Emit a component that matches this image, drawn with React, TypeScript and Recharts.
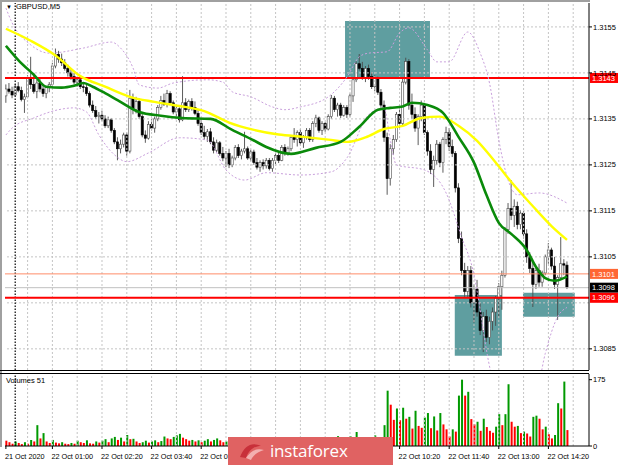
import React from 'react';
import {
  Bar,
  Cell,
  ComposedChart,
  Line,
  ReferenceArea,
  ReferenceLine,
  XAxis,
  YAxis
} from 'recharts';

// prices in pips above 1.3100
const BASE = 1.31;
const PIP = 0.0001;
const FONT = '"Liberation Sans", Arial, sans-serif';

const opens = [
  40.0, 41.5, 41.0, 40.2, 42.0, 41.2, 39.2, 39.8, 44.0, 42.5,
  41.0, 42.8, 41.5, 40.5, 41.8, 42.5, 46.5, 49.0, 48.0, 47.2,
  46.0, 45.0, 44.2, 43.0, 43.5, 42.0, 41.8, 40.5, 38.0, 36.8,
  35.5, 35.8, 35.0, 33.5, 34.8, 32.5, 30.0, 28.5, 29.5, 31.5,
  28.0, 39.5, 37.0, 38.8, 35.5, 31.5, 30.8, 33.8, 33.0, 35.0,
  37.5, 39.0, 38.2, 40.5, 38.5, 36.5, 37.2, 34.8, 38.5, 37.0,
  38.8, 37.5, 36.2, 34.0, 32.0, 31.2, 32.2, 30.0, 28.2, 29.8,
  27.5, 26.5, 27.5, 25.0, 26.5, 28.8, 27.0, 28.0, 28.5, 26.5,
  27.8, 25.5, 24.5, 25.5, 24.8, 26.0, 24.2, 26.0, 27.0, 26.0,
  28.8, 27.5, 28.5, 31.0, 30.5, 32.0, 29.8, 31.0, 32.5, 30.5,
  34.0, 35.2, 32.5, 34.0, 32.8, 35.5, 39.5, 37.0, 38.0, 35.8,
  37.5, 36.0, 40.0, 43.5, 47.0, 46.0, 44.0, 46.0, 44.2, 42.0,
  43.8, 40.8, 38.0, 31.0, 22.0, 28.5, 30.5, 36.0, 34.0, 43.0,
  47.5, 38.0, 36.0, 33.0, 35.5, 38.0, 32.0, 28.0, 24.0, 26.0,
  29.5, 25.5, 30.5, 32.0, 29.0, 27.5, 20.0, 9.0, 2.0, -2.5,
  2.0, -5.0, -2.0, -7.0, -11.0, -8.0, -12.5, -9.0, -7.0, -4.0,
  -1.5, 1.0, 10.9, 15.5, 14.0, 16.0, 12.0, 14.5, 10.0, 5.0,
  2.5, -1.0, 2.0, -0.5, 1.5, 5.0, 6.5, 3.0, -1.0, 0.5,
  3.5, 3.2
];

const highs = [
  42.5, 42.8, 42.0, 42.5, 43.0, 42.0, 40.5, 44.5, 48.5, 45.0,
  43.5, 43.8, 42.5, 42.0, 43.0, 47.2, 50.3, 49.8, 49.2, 48.0,
  46.8, 46.0, 45.0, 44.0, 44.0, 42.8, 42.5, 41.0, 39.0, 37.8,
  36.5, 36.8, 35.8, 35.5, 35.2, 33.0, 31.0, 30.5, 32.0, 32.0,
  41.3, 40.5, 39.8, 39.5, 36.0, 32.5, 34.5, 35.0, 35.5, 38.0,
  40.0, 40.5, 41.3, 41.0, 39.0, 38.0, 37.5, 44.3, 39.5, 39.2,
  39.5, 38.8, 37.0, 35.0, 33.5, 32.8, 33.0, 31.0, 30.5, 30.2,
  28.9, 28.0, 28.5, 27.0, 29.3, 29.5, 28.5, 32.2, 29.0, 28.3,
  28.3, 26.5, 26.0, 26.2, 26.5, 26.5, 26.5, 27.6, 28.0, 29.3,
  29.5, 29.0, 31.5, 33.0, 32.5, 32.8, 31.5, 33.0, 33.0, 34.5,
  35.9, 35.5, 34.5, 34.3, 36.0, 40.2, 40.0, 38.5, 38.5, 38.0,
  38.0, 40.5, 43.9, 47.5, 49.1, 47.4, 46.5, 46.8, 45.2, 44.5,
  44.2, 41.5, 39.0, 32.0, 29.5, 31.5, 36.5, 37.5, 43.9, 48.3,
  48.0, 40.5, 37.5, 36.0, 39.0, 38.5, 32.5, 29.5, 27.0, 30.4,
  30.0, 31.0, 33.3, 33.0, 30.5, 28.0, 21.0, 10.5, 3.7, 3.0,
  3.0, -1.0, 0.0, -5.0, -7.0, -6.5, -8.0, -6.0, -3.5, -0.7,
  2.0, 11.5, 16.7, 21.7, 17.5, 17.0, 15.2, 15.0, 11.0, 6.0,
  4.0, 3.0, 3.5, 2.0, 5.5, 8.0, 7.0, 5.0, 1.0, 9.3,
  4.5, 4.0
];

const lows = [
  38.5, 40.5, 39.5, 40.0, 40.8, 38.8, 36.3, 39.5, 41.5, 40.5,
  39.5, 40.8, 39.8, 39.5, 40.8, 42.0, 46.0, 47.2, 46.5, 45.5,
  44.2, 43.5, 42.5, 42.0, 41.5, 40.8, 40.0, 37.5, 36.3, 35.0,
  34.0, 34.5, 33.0, 33.0, 32.0, 29.5, 26.0, 27.5, 28.8, 27.0,
  27.5, 36.0, 36.2, 35.0, 31.0, 29.8, 30.5, 32.5, 32.0, 34.5,
  37.0, 37.8, 37.5, 38.0, 36.0, 35.0, 34.2, 34.5, 36.5, 36.5,
  36.8, 35.8, 33.5, 31.5, 30.5, 30.0, 29.5, 27.5, 27.8, 27.0,
  25.8, 24.5, 24.3, 24.5, 26.0, 26.5, 26.2, 27.5, 26.1, 25.8,
  25.0, 24.0, 23.5, 24.0, 24.2, 23.8, 23.5, 25.2, 25.4, 25.8,
  27.0, 27.0, 28.0, 29.8, 29.0, 29.3, 28.7, 30.5, 30.0, 30.0,
  33.2, 32.0, 31.5, 32.2, 32.5, 35.0, 36.5, 35.5, 35.2, 35.5,
  35.2, 35.5, 38.7, 43.0, 45.5, 43.5, 43.0, 43.5, 41.5, 41.0,
  40.2, 37.4, 30.0, 18.5, 20.5, 27.2, 30.0, 33.0, 33.5, 42.5,
  37.0, 35.0, 32.2, 29.3, 34.5, 31.5, 27.0, 23.0, 20.2, 25.0,
  24.5, 23.3, 29.5, 28.0, 26.7, 19.0, 8.0, 1.0, -3.7, -4.0,
  -6.0, -9.3, -8.0, -12.0, -15.7, -13.5, -14.0, -11.0, -10.0, -8.0,
  -6.5, 0.5, 10.0, 13.0, 11.5, 11.0, 11.0, 9.0, 3.7, 1.5,
  -5.9, -2.0, -1.5, -1.5, 1.0, 3.5, 2.2, -2.0, -8.7, 0.0,
  1.0, -2.0
];

const closes = [
  41.5, 41.0, 40.2, 42.0, 41.2, 39.2, 39.8, 44.0, 42.5, 41.0,
  42.8, 41.5, 40.5, 41.8, 42.5, 46.5, 49.0, 48.0, 47.2, 46.0,
  45.0, 44.2, 43.0, 43.5, 42.0, 41.8, 40.5, 38.0, 36.8, 35.5,
  35.8, 35.0, 33.5, 34.8, 32.5, 30.0, 28.5, 29.5, 31.5, 28.0,
  39.5, 37.0, 38.8, 35.5, 31.5, 30.8, 33.8, 33.0, 35.0, 37.5,
  39.0, 38.2, 40.5, 38.5, 36.5, 37.2, 34.8, 38.5, 37.0, 38.8,
  37.5, 36.2, 34.0, 32.0, 31.2, 32.2, 30.0, 28.2, 29.8, 27.5,
  26.5, 27.5, 25.0, 26.5, 28.8, 27.0, 28.0, 28.5, 26.5, 27.8,
  25.5, 24.5, 25.5, 24.8, 26.0, 24.2, 26.0, 27.0, 26.0, 28.8,
  27.5, 28.5, 31.0, 30.5, 32.0, 29.8, 31.0, 32.5, 30.5, 34.0,
  35.2, 32.5, 34.0, 32.8, 35.5, 39.5, 37.0, 38.0, 35.8, 37.5,
  36.0, 40.0, 43.5, 47.0, 46.0, 44.0, 46.0, 44.2, 42.0, 43.8,
  40.8, 38.0, 31.0, 22.0, 28.5, 30.5, 36.0, 34.0, 43.0, 47.5,
  38.0, 36.0, 33.0, 35.5, 38.0, 32.0, 28.0, 24.0, 26.0, 29.5,
  25.5, 30.5, 32.0, 29.0, 27.5, 20.0, 9.0, 2.0, -2.5, 2.0,
  -5.0, -2.0, -7.0, -11.0, -8.0, -12.5, -9.0, -7.0, -4.0, -1.5,
  1.0, 10.9, 15.5, 14.0, 16.0, 12.0, 14.5, 10.0, 5.0, 2.5,
  -1.0, 2.0, -0.5, 1.5, 5.0, 6.5, 3.0, -1.0, 0.5, 3.5,
  3.2, -1.7
];

const volumes = [
  14, 10, 6, 12, 8, 5, 10, 6, 16, 12,
  55, 20, 34, 12, 8, 16, 9, 7, 10, 6,
  5, 8, 6, 14, 10, 8, 15, 7, 6, 12,
  9, 14, 18, 10, 20, 24, 16, 22, 12, 29,
  18, 19, 12, 8, 10, 14, 9, 12, 15, 10,
  13, 25, 20, 18, 24, 28, 32, 22, 18, 14,
  16, 12, 15, 10, 14, 18, 12, 16, 20, 15,
  10, 12, 18, 14, 10, 16, 8, 14, 12, 9,
  15, 10, 13, 8, 12, 7, 14, 10, 9, 13,
  8, 12, 10, 16, 9, 11, 14, 8, 12, 20,
  10, 15, 9, 12, 18, 10, 14, 26, 12, 9,
  16, 26, 12, 37, 15, 22, 10, 14, 12, 28,
  16, 20, 55, 146, 109, 69, 99, 68, 101, 72,
  77, 46, 93, 53, 48, 75, 87, 47, 78, 41,
  87, 57, 44, 25, 44, 38, 133, 175, 133, 143,
  71, 57, 64, 40, 72, 50, 40, 35, 51, 84,
  55, 84, 163, 64, 51, 53, 34, 38, 33, 25,
  77, 80, 72, 44, 51, 31, 20, 29, 113, 99,
  170, 42
];

// indicator readings: [bar, pips]
const yellowMA = [
  [0, 54.6], [8, 52.0], [16, 48.8], [24, 44.3], [32, 42.0], [40, 39.8], [48, 38.7],
  [56, 37.8], [64, 36.7], [72, 34.2], [80, 32.6], [88, 31.6], [96, 31.1], [104, 30.5],
  [110, 30.0], [116, 31.0], [122, 32.8], [128, 33.5], [134, 35.2], [140, 35.5],
  [146, 33.5], [152, 30.2], [158, 25.5], [164, 20.5], [170, 16.0], [176, 11.7], [181, 8.7]
];

const greenMA = [
  [0, 50.9], [4, 47.8], [9, 44.6], [13, 42.0], [18, 41.8], [22, 42.2], [25, 42.8],
  [28, 42.0], [32, 40.6], [36, 39.1], [43, 36.5], [50, 35.7], [57, 35.2], [66, 35.0],
  [73, 32.6], [80, 30.3], [84, 28.9], [92, 27.4], [100, 28.7], [108, 30.0], [114, 33.3],
  [120, 37.0], [124, 37.4], [128, 37.7], [131, 38.5], [136, 38.0], [141, 36.3],
  [146, 31.1], [151, 25.5], [155, 18.5], [159, 12.4], [163, 10.0], [168, 6.5],
  [171, 2.8], [174, 0.4], [177, -0.2], [181, 0.7]
];

const upperBand = [
  [0, 59.1], [2, 55.9], [8, 51.1], [14, 49.3], [25, 50.4], [34, 51.7], [37, 50.4],
  [41, 46.1], [43, 42.4], [49, 41.7], [54, 42.8], [65, 43.5], [70, 43.0], [73, 40.9],
  [79, 39.8], [86, 37.6], [90, 37.0], [95, 37.6], [104, 39.8], [110, 44.1], [114, 48.5],
  [117, 49.3], [123, 49.6], [127, 53.7], [130, 54.8], [136, 50.0], [139, 47.4],
  [143, 47.4], [149, 53.9], [153, 49.3], [156, 42.8], [159, 30.4], [162, 21.7],
  [165, 18.5], [172, 18.9], [181, 16.7]
];

const lowerBand = [
  [0, 31.5], [2, 33.0], [9, 35.2], [17, 37.0], [22, 37.4], [26, 36.5], [30, 31.5],
  [35, 27.2], [39, 25.7], [46, 27.6], [56, 30.9], [65, 30.4], [71, 23.9], [77, 21.7],
  [84, 23.3], [95, 22.8], [105, 23.5], [110, 26.5], [117, 35.9], [122, 37.4],
  [124, 30.4], [126, 25.0], [135, 23.9], [142, 18.9], [147, 9.3], [151, 1.1],
  [153, -6.5], [155, -15.2], [158, -24.0], [165, -30.0], [170, -28.0], [174, -16.0],
  [178, -8.0], [181, -6.0]
];

const priceGrid = [1.3085, 1.3095, 1.3105, 1.3115, 1.3125, 1.3135, 1.3145, 1.3155];
// 1.3095 sits under the 1.3096 tag, so it gets no label
const priceTicks = [1.3085, 1.3105, 1.3115, 1.3125, 1.3135, 1.3145, 1.3155];
const gridBars = [7, 15, 23, 31, 39, 47, 55, 63, 71, 79, 87, 95, 103, 111, 119, 127, 135, 143, 151, 159, 167, 175, 183];
const daySeparator = 3;
const timeTicks = [0, 15, 31, 47, 63, 79, 95, 111, 127, 143, 159, 175];
const timeLabels = [
  '21 Oct 2020', '22 Oct 01:00', '22 Oct 02:20', '22 Oct 03:40', '22 Oct 05:00', '',
  '', '22 Oct 09:00', '22 Oct 10:20', '22 Oct 11:40', '22 Oct 13:00', '22 Oct 14:20'
];
const volumeTicks = [0, 175];

const zones = [
  { x1: 109.4, x2: 136.8, y1: 1.31441, y2: 1.31563 },
  { x1: 144.8, x2: 160.0, y1: 1.30835, y2: 1.30967 },
  { x1: 166.8, x2: 183.5, y1: 1.3092, y2: 1.30972 }
];

const levels = [
  { value: 1.31439, text: '1.3143', line: '#ff0000', width: 2, tag: '#ff0000' },
  { value: 1.31013, text: '1.3101', line: '#ff8c69', width: 1, tag: '#ff6633' },
  { value: 1.30983, text: '1.3098', line: '#c0c0c0', width: 1, tag: '#000000' },
  { value: 1.30961, text: '1.3096', line: '#ff0000', width: 2, tag: '#ff0000' }
];

const X_DOMAIN = [-0.29, 188.1];
const Y_DOMAIN = [1.30804, 1.31602];

const toPrice = (p: number) => BASE + p * PIP;

const candles = opens.map((o, i) => ({
  i,
  o: toPrice(o),
  h: toPrice(highs[i]),
  l: toPrice(lows[i]),
  c: toPrice(closes[i])
}));

const volumeRows = volumes.map((v, i) => ({ i, vol: v }));

const toSeries = (pts: number[][]) => pts.map(([i, p]) => ({ i, v: toPrice(p) }));

function Candle(props: any) {
  const { x, y, width, height, payload } = props;
  if (!payload || x == null) return null;
  let top = y;
  let h = height;
  if (h < 0) {
    top = y + h;
    h = -h;
  }
  const span = payload.h - payload.l;
  const k = span > 0 ? h / span : 0;
  const cx = x + width / 2;
  const bodyTop = top + (payload.h - Math.max(payload.o, payload.c)) * k;
  const bodyBot = top + (payload.h - Math.min(payload.o, payload.c)) * k;
  const up = payload.c >= payload.o;
  return (
    <g>
      <line x1={cx} x2={cx} y1={top} y2={top + h} stroke="#4a4a4a" strokeWidth={0.9} />
      <rect
        x={cx - 1.1}
        y={bodyTop}
        width={2.2}
        height={Math.max(bodyBot - bodyTop, 0.8)}
        fill={up ? '#ffffff' : '#000000'}
        stroke={up ? '#4a4a4a' : '#000000'}
        strokeWidth={0.6}
      />
    </g>
  );
}

function PriceTick(props: any) {
  const { x, y, payload } = props;
  return (
    <text x={x} y={y + 2.6} fontSize={7.5} fontFamily={FONT} fill="#000" textAnchor="start">
      {Number(payload.value).toFixed(4)}
    </text>
  );
}

function VolumeTick(props: any) {
  const { x, y, payload } = props;
  return (
    <text x={x} y={y + 2.6} fontSize={7.5} fontFamily={FONT} fill="#000" textAnchor="start">
      {payload.value}
    </text>
  );
}

function TimeTick(props: any) {
  const { x, y, payload } = props;
  const label = timeLabels[timeTicks.indexOf(payload.value)];
  if (!label) return null;
  return (
    <text x={x - 1} y={y + 9} fontSize={7.3} fontFamily={FONT} fill="#000" textAnchor="start">
      {label}
    </text>
  );
}

function PriceTag(props: any) {
  const { viewBox, text, bg } = props;
  if (!viewBox) return null;
  const left = viewBox.x + viewBox.width + 1;
  return (
    <g>
      <rect x={left} y={viewBox.y - 5} width={28} height={10} fill={bg} />
      <text x={left + 2} y={viewBox.y + 2.7} fontSize={7.5} fontFamily={FONT} fill="#fff">
        {text}
      </text>
    </g>
  );
}

const gridStroke = '#c4c4c4';

export default function App() {
  return (
    <div
      style={{
        position: 'absolute',
        left: 0,
        top: 0,
        width: 620,
        height: 465,
        background: '#fff',
        overflow: 'hidden',
        fontFamily: FONT
      }}
    >
      <div style={{ position: 'absolute', left: 0, top: 0, width: 590, height: 2, background: '#a0a0a0' }} />
      <div style={{ position: 'absolute', left: 0, top: 0, width: 2, height: 447, background: '#a0a0a0' }} />

      <div style={{ position: 'absolute', left: 0, top: 0 }}>
        <ComposedChart width={620} height={371} data={candles} margin={{ top: 3, right: 0, bottom: 1, left: 5 }}>
          <XAxis type="number" dataKey="i" domain={X_DOMAIN} allowDataOverflow hide />
          <YAxis
            orientation="right"
            type="number"
            domain={Y_DOMAIN}
            allowDataOverflow
            ticks={priceTicks}
            interval={0}
            width={31}
            tick={<PriceTick />}
            tickSize={3}
            tickMargin={1}
            tickLine={{ stroke: '#000' }}
            axisLine={{ stroke: '#000' }}
          />
          {zones.map((z, k) => (
            <ReferenceArea
              key={`z${k}`}
              x1={z.x1}
              x2={z.x2}
              y1={z.y1}
              y2={z.y2}
              fill="#5f9ea0"
              fillOpacity={1}
              stroke="none"
            />
          ))}
          {priceGrid.map((p) => (
            <ReferenceLine key={`h${p}`} y={p} stroke={gridStroke} strokeDasharray="2 2" />
          ))}
          {gridBars.map((b) => (
            <ReferenceLine key={`v${b}`} x={b} stroke={gridStroke} strokeDasharray="2 2" />
          ))}
          <ReferenceLine x={daySeparator} stroke="#000" strokeWidth={1.2} strokeDasharray="1.5 1.5" />
          {levels.map((l) => (
            <ReferenceLine key={`l${l.value}`} y={l.value} stroke={l.line} strokeWidth={l.width} />
          ))}
          <Line
            data={toSeries(upperBand)}
            dataKey="v"
            type="monotone"
            stroke="#c9a0dc"
            strokeWidth={1}
            strokeDasharray="2 2"
            dot={false}
            isAnimationActive={false}
          />
          <Line
            data={toSeries(lowerBand)}
            dataKey="v"
            type="monotone"
            stroke="#c9a0dc"
            strokeWidth={1}
            strokeDasharray="2 2"
            dot={false}
            isAnimationActive={false}
          />
          <Bar
            dataKey={(d: any) => [d.l, d.h]}
            shape={<Candle />}
            barSize={3}
            isAnimationActive={false}
          />
          <Line
            data={toSeries(yellowMA)}
            dataKey="v"
            type="monotone"
            stroke="#ffff00"
            strokeWidth={2.4}
            dot={false}
            isAnimationActive={false}
          />
          <Line
            data={toSeries(greenMA)}
            dataKey="v"
            type="monotone"
            stroke="#0a8a0a"
            strokeWidth={2.6}
            dot={false}
            isAnimationActive={false}
          />
          {levels.map((l) => (
            <ReferenceLine
              key={`t${l.value}`}
              y={l.value}
              stroke="none"
              label={<PriceTag text={l.text} bg={l.tag} />}
            />
          ))}
        </ComposedChart>
      </div>

      <div style={{ position: 'absolute', left: 0, top: 370, width: 589, height: 1, background: '#000' }} />
      <div style={{ position: 'absolute', left: 0, top: 373, width: 589, height: 1, background: '#000' }} />

      <div style={{ position: 'absolute', left: 0, top: 372 }}>
        <ComposedChart width={620} height={93} data={volumeRows} margin={{ top: 2, right: 0, bottom: 0, left: 5 }}>
          <XAxis
            type="number"
            dataKey="i"
            domain={X_DOMAIN}
            allowDataOverflow
            ticks={timeTicks}
            interval={0}
            height={19}
            tick={<TimeTick />}
            tickSize={3}
            tickMargin={1}
            tickLine={{ stroke: '#000' }}
            axisLine={{ stroke: '#000' }}
          />
          <YAxis
            orientation="right"
            type="number"
            domain={[0, 190]}
            allowDataOverflow
            ticks={volumeTicks}
            interval={0}
            width={31}
            tick={<VolumeTick />}
            tickSize={3}
            tickMargin={1}
            tickLine={{ stroke: '#000' }}
            axisLine={{ stroke: '#000' }}
          />
          {gridBars.map((b) => (
            <ReferenceLine key={`vv${b}`} x={b} stroke={gridStroke} strokeDasharray="2 2" />
          ))}
          <ReferenceLine x={daySeparator} stroke="#000" strokeWidth={1.2} strokeDasharray="1.5 1.5" />
          <Bar dataKey="vol" barSize={2} isAnimationActive={false}>
            {volumeRows.map((r, k) => (
              <Cell key={k} fill={k > 0 && r.vol > volumeRows[k - 1].vol ? '#009900' : '#ff0000'} />
            ))}
          </Bar>
        </ComposedChart>
      </div>

      <div style={{ position: 'absolute', left: 6, top: 2, fontSize: 7.5, color: '#000', whiteSpace: 'nowrap' }}>
        <span style={{ fontSize: 6, marginRight: 4 }}>▼</span>GBPUSD,M5
      </div>
      <div style={{ position: 'absolute', left: 6, top: 376, fontSize: 7.5, color: '#000', whiteSpace: 'nowrap' }}>
        Volumes 51
      </div>

      <div
        style={{
          position: 'absolute',
          left: 228,
          top: 437,
          width: 165,
          height: 28,
          background: '#e06262',
          display: 'flex',
          alignItems: 'center'
        }}
      >
        <svg width={30} height={22} style={{ marginLeft: 9 }} viewBox="0 0 30 22">
          <path d="M3 17 C8 4, 16 2, 24 6 C18 6, 12 9, 9 18 Z" fill="#c8303a" />
          <path d="M9 18 C14 10, 20 8, 27 10 C21 12, 16 15, 14 20 Z" fill="#f3b0b0" />
        </svg>
        <span
          style={{
            marginLeft: 3,
            color: '#fff',
            fontFamily: '"Open Sans", sans-serif',
            fontSize: 17,
            letterSpacing: -0.2,
            lineHeight: '28px'
          }}
        >
          instaforex
        </span>
      </div>
    </div>
  );
}
